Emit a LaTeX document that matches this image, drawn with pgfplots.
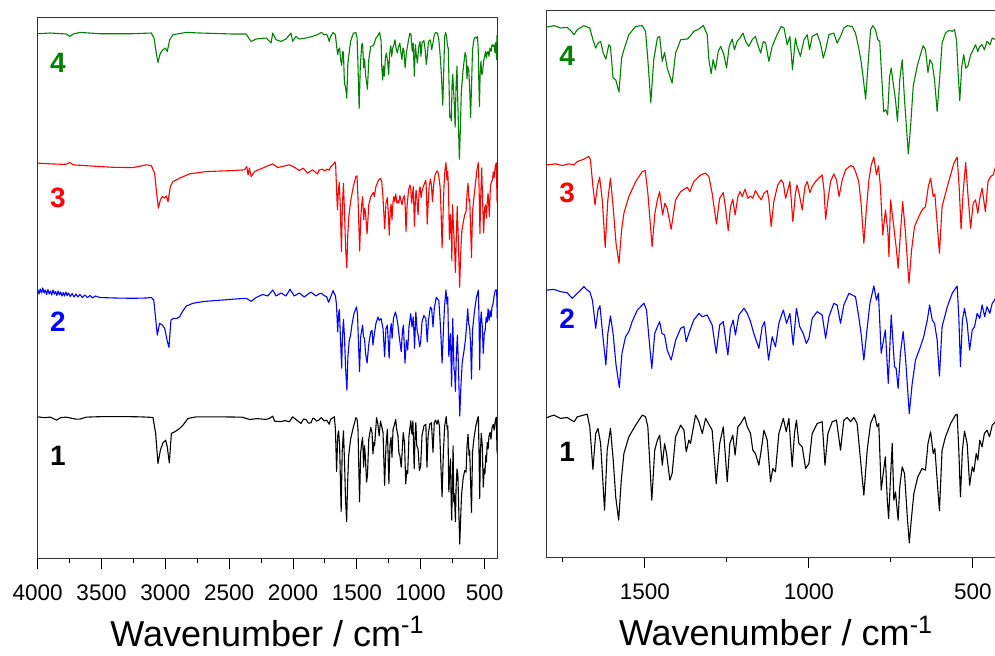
\documentclass[border=0pt]{standalone}
\usepackage{fontspec}
\setmainfont{Liberation Sans}
\usepackage{pgfplots}
\usepackage{pgfplotstable}
\pgfplotsset{compat=1.18}

\definecolor{irgreen}{RGB}{0,128,0}

% spectra, offset for stacking (wavenumber / cm-1, offset transmittance)
\pgfplotstableread{
wn T
4000 141.3
3950 140.5
3900 141
3852 138
3820 140.5
3780 141
3700 139
3669 139
3620 141
3500 141.5
3300 141.5
3200 141.3
3097 140.7
3076 124.7
3058 94.7
3039 108
3019 115.3
2998 118
2985 111.3
2969 95.3
2953 124.7
2927 126.3
2888 129.7
2862 133
2823 139.7
2758 141.3
2600 141.3
2400 141
2340 138.7
2280 139.5
2210 138.7
2180 140
2159 142
2145 137
2100 136.5
2060 137.5
2029 136.3
2003 141.3
1970 138
1938 134.7
1918 139
1899 138.7
1880 135
1860 135.3
1845 139.7
1834 139.7
1815 137
1798 138.1
1778 140.5
1757 137.2
1737 138.1
1716 133.9
1706 138.8
1686 140.5
1676 141.4
1668 128.9
1658.5 86.7
1650 122.3
1643 127.3
1635 112.4
1623 46.5
1615 105.8
1605 127.3
1596.5 96
1589 59.7
1580 36.6
1572 76.2
1564 102.5
1549 119
1528 130.6
1508 140.5
1498 138.8
1491 128.9
1479 56.4
1470 105.8
1462 115.7
1455 120.7
1447 91
1440 112.4
1434 102.5
1424 76.2
1417 82.8
1406.5 119
1391 130.6
1381 125.6
1374 104.2
1366 115.7
1361 112.4
1345.6 140.5
1335.4 133.9
1325 122.3
1315 137.2
1295 125.6
1282.6 72.9
1272 112.4
1261 128.9
1249 74.5
1241 112.4
1232 120.7
1225 100.9
1216.5 128.9
1208 132.2
1196 138.8
1188 128.9
1178 122.3
1171 105.8
1163 102.5
1152.5 91
1145.4 105.8
1137 125.6
1127 115.7
1117 74.5
1110 87.7
1102 84.4
1091.6 122.3
1078 137.2
1069 124
1061 137.2
1051 89.3
1044 122.3
1038 135.5
1030.6 112.4
1020.4 109.1
1010 87.7
1000 92.6
990 122.3
974.7 132.2
959.5 133.9
951 91
942 122.3
929 133.9
916 135.5
903.6 105.8
893.5 135.5
883 138.1
873 133.9
863 138.1
853 132.2
842.6 96
832.5 61.3
822.3 105.8
812 132.2
800 141.4
792 128.9
787 132.2
779.6 66.3
773.5 82.8
767 99.2
761 56.4
757 38.2
751 79.5
746 112.4
741 56.4
736 64.6
728 36.6
723 69.6
715.6 89.3
708.5 82.8
700 39.9
694 14.2
688 36.6
680 63
668 79.5
655 87.7
644.5 86
637 112.4
629 124
621 102.5
616 107.5
609 76.2
602 45.8
594 105.8
583.6 119
568 132.2
553 140.5
548 141.4
543 105.8
538 59.7
532 105.8
525.6 124.6
517.5 112.4
510 71.2
502 89.3
497 84.4
490 102.5
485 96
479 115.7
472 109.1
465 122.3
457 125.6
449.5 119
441 130.6
431 133.9
425 128
415 138
408 141
402 108
400 105
}\specA

\pgfplotstableread{
wn T
4000 268.7
3990 264
3980 269
3970 265
3960 270
3950 265
3940 268
3930 263.5
3920 268.5
3910 264
3900 267
3890 263
3880 268
3870 264
3860 266.5
3850 262.5
3840 267
3830 263
3820 266
3810 262
3800 265.5
3790 262
3780 266
3770 262.5
3760 265
3745 261.5
3730 264.5
3715 261
3700 264
3685 261
3670 263.5
3650 260.5
3630 263
3610 260.5
3590 262.5
3570 260
3550 262
3513 260.5
3400 260
3253 259.7
3150 260
3110 260.5
3091 258
3063 223
3045 234.7
3024 233
3005 229.7
2987 218
2972 210.7
2956 238
2935 239.7
2909 239.7
2888 241.3
2867 246.3
2836 252
2784 254.7
2700 256.5
2602 257.5
2450 259
2367 259.7
2328 256.7
2289 260.5
2237 263.5
2198 262
2159 268
2133 262
2094 265
2055 262
2024 268.7
1990 262
1951 265
1912 261
1860 266
1821 262
1798 264
1777 264.7
1757 262.4
1737 261.4
1721.5 255.8
1711 259.1
1701 262.4
1686 267.4
1676 264
1668 262.4
1660 254
1650 226.2
1643 244.3
1637 248.5
1629 221.2
1619 189.9
1613 221.2
1605 238.5
1597 221
1588 190
1578 167.8
1570 201.5
1559 217.9
1549 222.9
1539 232.8
1523 244.3
1508 249.3
1503 251
1495 244.3
1488 217.9
1479 186.6
1470 221.2
1462 227.8
1455 232.8
1448 221.2
1440 219.6
1432 204.7
1420 194.9
1406 214.6
1391 226.2
1381 227.8
1374 213
1366 221.2
1351 234.4
1335 241
1325 237.7
1310 239.4
1295 229.5
1282.6 201.5
1272 229.5
1261 232.8
1247 199.8
1239 226.2
1231 234.4
1224 219.6
1213.5 239.4
1198 246
1188 241
1178 232.8
1168 221.2
1152.5 206.4
1142.4 227.8
1135 232.8
1123 194.9
1112 217.9
1102 208
1091.6 231.1
1078 244.3
1068 231.1
1058 241
1048 209.7
1038 246
1028 227.8
1017.4 221.2
1008 211.3
1000 216.3
990 236
975 242.7
959.5 239.4
949 216.3
939 237.7
924 250.9
914 249.3
903.6 231.1
893.5 249.3
878 260.8
858 257.5
848 237.7
841 221.2
832.5 194.9
824 221.2
814 250.9
802 268
794 254
788 261
779.6 201.5
767 224.5
758 171.8
749 239.4
739 188.3
734 186.6
728 166.8
721 201.5
712.6 222.9
705 194.9
694 142.1
685 171.8
675 194.9
660 208
650 217.9
639 234.4
632 249.3
624 234.4
617 231.1
609 214.6
602 179
594 227.8
578 247.6
563 260.8
548 268
543 237.7
538 188.3
532 234.4
525.6 246
517.5 231.1
510 204.7
502 224.5
495 227.8
487 241
479 236
472 249.3
464 237.7
457 247.6
448.5 241
441 250.9
434 254
425 262
415 268
405 268
400 240
}\specB

\pgfplotstableread{
wn T
4000 394.7
3900 394
3800 393.5
3774 393.7
3748 395.3
3720 393
3600 392
3513 391.3
3400 390.5
3253 390.3
3149 393
3110 392.3
3084 384.7
3071 368
3055 349.7
3039 358
3024 361.3
3005 359.7
2992 362
2979 356.3
2961 371.3
2940 376.3
2888 379.7
2810 384
2680 386.3
2472 387.3
2381 388
2362 391.3
2352 383
2342 389.7
2328 381.3
2302 386.3
2211 391.3
2159 394
2120 390.3
2029 393
1990 390.7
1951 387.3
1920 389.7
1886 384.7
1847 388
1808 384
1798 387.7
1772 388.7
1752 387
1732 388.7
1716 387.7
1706 391
1686 393.3
1671 396
1666 392.7
1658.5 366.3
1652 348.1
1645 366.3
1638 375.5
1630 353.1
1621 306.3
1613 353.1
1605 374.5
1597 346.5
1588 310.2
1579 290.4
1571 323.4
1564 339.9
1549 356.4
1528 371.2
1508 381.1
1499 382.1
1491 359.7
1478 306.9
1469.5 339.9
1462 353.1
1455 361.3
1446 338.2
1439 349.8
1432 344.8
1420 324.1
1406.5 353.1
1391 361.3
1371 365.6
1363 361.3
1351 371.2
1330 377.8
1315 379.5
1305 376.2
1295 359.7
1282 329.3
1272 354.7
1261 360.3
1254 344.8
1246 322.7
1239 346.5
1232 353.7
1225 338.2
1216.5 356.4
1210 361.3
1203 356.4
1195 363.6
1186 354.7
1178 357
1171 354.7
1163 362.3
1152.5 356.4
1145 353.1
1137 359.7
1127 362.3
1122 353.1
1115 326.7
1107 351.4
1095 367.9
1084.5 372.9
1078 369.6
1071 354.7
1064 363
1058 371.2
1049 331.6
1041 359.7
1036 367.9
1028 356.4
1020.5 343.2
1012 366.3
1005 371.2
997 360.3
990 366.3
980 371.2
970 374.5
959.5 377.8
954 363
949 333.9
942 353.1
934 371.2
924 378.8
916 372.9
908 356.4
898.5 372.9
888 382.8
873 387
865 386
858 381.1
848 371.2
841 349.8
832.5 310.2
824 346.5
817 372.9
810 387.7
802 395.3
794 377.8
788 386.7
782 366.3
775 318.5
766.5 343.2
759 320.1
756 297
751 353.1
746 339.9
739 320.1
733 303.6
728 285.5
721 320.1
714 351.4
705.5 320.1
695 270.7
687 303.6
678 326.7
665 336.6
655 343.2
644.5 346.5
636 366.3
629 374.5
621 356.4
616 359
609 330
602 300.3
594 346.5
578 366.3
558 389.3
548 395.3
542 366.3
536 324.1
530 359.7
522 390
515.5 359.7
507 325.1
499 349.8
492 353.1
485 339.9
479 354.7
472 364.6
462 341.5
454 371.2
446 376.2
438 377.8
431 386
425 380
415 392
408 395
402 358
400 355
}\specC

\pgfplotstableread{
wn T
4000 524
3904 524.7
3774 523.7
3748 521.3
3722 523.7
3669 525.3
3513 524
3253 524
3110 524.7
3089 519.7
3071 504.7
3058 495.3
3039 504.7
3019 508
3000 509.7
2985 506.3
2966 518
2940 523
2836 525.3
2732 524.7
2472 523.7
2367 523.7
2347 519.7
2328 516.3
2289 518.7
2211 519.7
2172 514.7
2159 524.7
2133 518
2094 516.3
2055 518.7
2016 524.7
2003 516.3
1977 521.3
1951 518.7
1899 519.7
1847 521.3
1810 523
1798 523.9
1777 525.2
1757 522.9
1737 523.5
1727 520.6
1716 516.3
1706 521.2
1686 525.2
1668 522.9
1658.5 511.3
1650 503.1
1643 508
1635 509.7
1627 498.1
1619 492.2
1610 506.4
1605 504.7
1597 473.4
1589 471.8
1579 459.6
1571 493.2
1564 501.4
1549 516.3
1528 524.5
1508 525.2
1498 519.6
1491 491.6
1482 449.4
1473 491.6
1462 513
1455 514.6
1447 489.9
1440 498.8
1432 483.3
1417 468.5
1406.5 498.1
1391 511.3
1371 512
1361 515.3
1351 519.6
1335 521.9
1322 525.5
1310 516.3
1305 491.6
1298 477.7
1292 491.6
1285 481.7
1276.5 499.8
1269 504.7
1259 496.5
1251 483.3
1243 504.7
1234 512
1227 501.4
1219 509.7
1210 513
1201 517.9
1193 509.7
1183 504.7
1173 511.3
1163 514.6
1156 506.4
1147 498.1
1139 509.7
1132 508
1122 489.9
1112 504.7
1097 516.3
1084.5 524.5
1076 522.9
1066 506.4
1058 514.6
1050 481.7
1041 513
1036 504.7
1026 494.9
1015 511.3
1005 516.3
998 501.4
990 514.6
975 517.3
965 508
956 493.2
949 501.4
939 516.3
924 517.9
914 508
903.6 514.6
893.5 522.9
883 525.2
868 524.5
858 517.9
848 503.1
841 489.9
835 475.1
827 452.6
820 485
812 521.2
805 525.2
797 521.2
790 511.3
784 509.7
777 468.5
772 440.4
765.5 442.1
760 437.1
754 475.1
749 483.3
743 468.5
736 452
730 430.6
723 471.8
715.6 491.6
708.5 452
697 398.6
690 425.6
682 465.2
670 485
660 496.5
652 505.4
644.5 501.4
637 479
631 491.6
624 487.6
617 471.8
609 440.4
601 475.1
594 508
583.6 517.9
573.4 520.6
563 519.6
556 521.2
550 511.3
545 478.4
540 451.3
534 485
528 496.5
522 483.3
515.5 485
507 496.5
499 501.4
492 506.4
485 499.8
479 504.7
472 506.4
465 501.4
457 509.7
448 506.4
441 513
431 511.3
425 513
418 505
412 515
405 498
402 522
400 520
}\specD

\pgfplotsset{
  irpanel/.style={
    scale only axis,
    anchor=south west,
    x dir=reverse,
    ymin=0, ymax=540,
    ytick=\empty,
    xtick pos=bottom,
    tick align=outside,
    major tick length=5.25pt,
    minor tick length=2.5pt,
    tick style={black, line width=0.5pt},
    axis line style={black!80, line width=0.6pt},
    /pgf/number format/assume math mode=true,
    /pgf/number format/1000 sep={},
    xticklabel style={font=\fontsize{11.25}{13}\selectfont, yshift=-4.25pt},
    xlabel={Wavenumber / cm\textsuperscript{-1}},
    xlabel style={font=\fontsize{18}{21}\selectfont,
      at={(axis description cs:0.5,0)}, anchor=base},
    every axis plot/.append style={line width=0.55pt, line join=round},
  },
}
\tikzset{numlabel/.style={font=\bfseries\fontsize{14}{16}\selectfont}}

\begin{document}
\begin{tikzpicture}
% full range
\begin{axis}[irpanel,
  at={(18.85pt,48.85pt)}, width=229.8pt, height=270.3pt,
  xmin=400, xmax=4000,
  xtick={500,1000,...,4000}, minor x tick num=1,
  xlabel style={yshift=-43.9pt}]
\addplot[black] table[x=wn, y=T] {\specA};
\addplot[blue] table[x=wn, y=T] {\specB};
\addplot[red] table[x=wn, y=T] {\specC};
\addplot[irgreen] table[x=wn, y=T] {\specD};
\node[numlabel, text=black] at (axis cs:3841,102) {1};
\node[numlabel, text=blue] at (axis cs:3841,236) {2};
\node[numlabel, text=red] at (axis cs:3841,360) {3};
\node[numlabel, text=irgreen] at (axis cs:3841,495) {4};
\end{axis}
% fingerprint region
\begin{axis}[irpanel,
  at={(273.25pt,49.35pt)}, width=229.6pt, height=273.3pt,
  xmin=400, xmax=1800,
  xtick={500,1000,1500}, minor xtick={750,1250,1750},
  xlabel style={yshift=-44.35pt}]
\addplot[black] table[x=wn, y=T] {\specA};
\addplot[blue] table[x=wn, y=T] {\specB};
\addplot[red] table[x=wn, y=T] {\specC};
\addplot[irgreen] table[x=wn, y=T] {\specD};
\node[numlabel, text=black] at (axis cs:1737,104) {1};
\node[numlabel, text=blue] at (axis cs:1737,236) {2};
\node[numlabel, text=red] at (axis cs:1737,360) {3};
\node[numlabel, text=irgreen] at (axis cs:1737,495) {4};
\end{axis}
\pgfresetboundingbox
\path[use as bounding box] (0,0) rectangle (497.5pt,328pt);
\end{tikzpicture}
\end{document}
